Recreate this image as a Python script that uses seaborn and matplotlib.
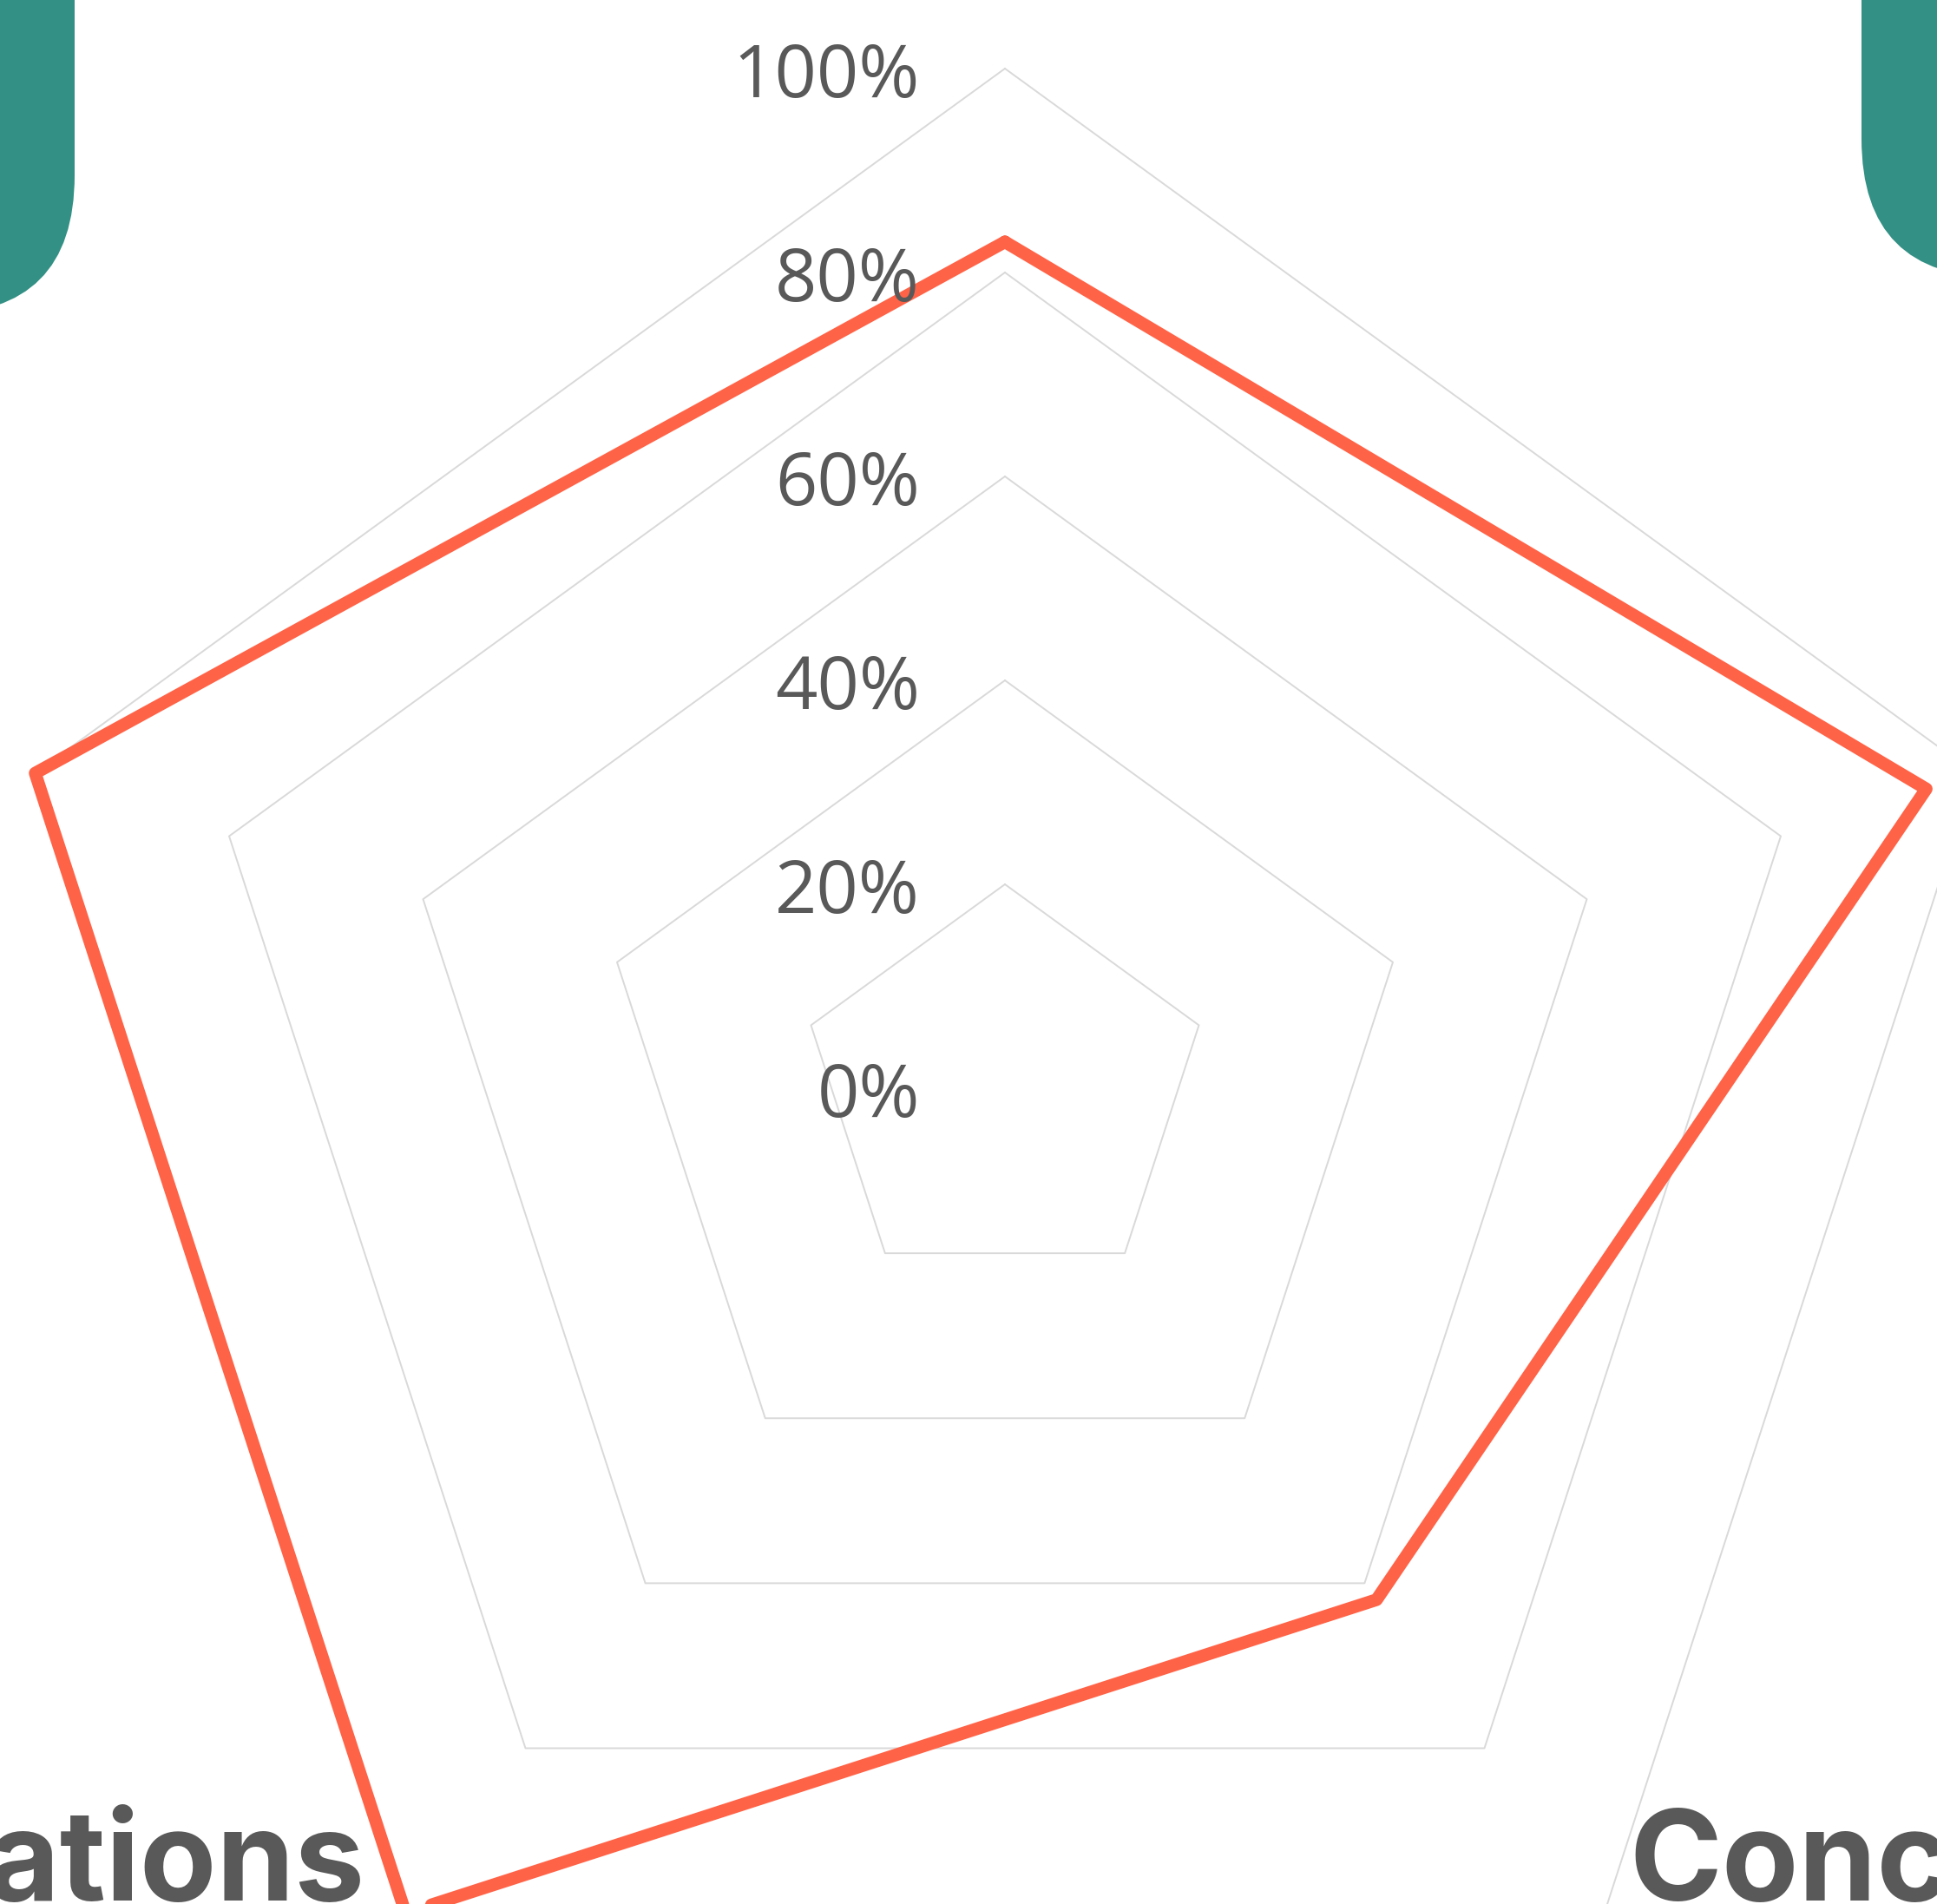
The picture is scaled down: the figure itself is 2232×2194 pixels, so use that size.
import numpy as np
import pandas as pd
import matplotlib.pyplot as plt
import seaborn as sns
from matplotlib.patches import FancyBboxPatch
from matplotlib.transforms import IdentityTransform

categories = ['Knowledge', 'Skills', 'Concepts', 'Applications', 'Communication']
scores = [83, 95, 62, 100, 100]
ring_levels = [20, 40, 60, 80, 100]
tick_values = [0, 20, 40, 60, 80, 100]
tick_labels = ['0%', '20%', '40%', '60%', '80%', '100%']

sns.set_theme(style='white')
plt.rcParams['font.family'] = ['Open Sans', 'DejaVu Sans']

W, H = 2232, 2194
fig = plt.figure(figsize=(W / 100, H / 100), dpi=100)
fig.patch.set_facecolor('white')

# radar centre and outer radius in pixels (chart is cropped by the canvas)
cx, cy, R = 1158, 1254, 1175
ax = fig.add_axes([(cx - R) / W, 1 - (cy + R) / H, 2 * R / W, 2 * R / H], projection='polar')
ax.set_theta_zero_location('N')
ax.set_theta_direction(-1)
ax.set_facecolor('none')
ax.spines['polar'].set_visible(False)
ax.grid(False)

angles = np.linspace(0, 2 * np.pi, len(categories), endpoint=False)
closed = np.append(angles, 2 * np.pi)

# pentagon grid rings
for lv in ring_levels:
    ax.plot(closed, [lv] * len(closed), color='#d9d9d9', lw=1.4, clip_on=False, zorder=1)

df = pd.DataFrame({'theta': closed, 'score': scores + scores[:1]})
sns.lineplot(data=df, x='theta', y='score', sort=False, ax=ax, color='#ff6347',
             lw=10.5, clip_on=False, zorder=3, solid_joinstyle='round')

ax.set_ylim(0, 100)
ax.set_xticks([])
ax.set_yticks([])
ax.set_xlabel('')
ax.set_ylabel('')

# radial tick labels
for v, lab in zip(tick_values, tick_labels):
    ax.annotate(lab, xy=(0, v), xytext=(-98, -11), textcoords='offset pixels',
                ha='right', va='center', fontsize=61, color='#595959',
                annotation_clip=False)

# category labels
lab_pos = [((0, 200), 'center', 'bottom'), ((80, 0), 'left', 'center'),
           ((29, 15), 'left', 'baseline'), ((-47, 15), 'right', 'baseline'),
           ((-80, 0), 'right', 'center')]
for ang, name, (off, ha, va) in zip(angles, categories, lab_pos):
    ax.annotate(name, xy=(ang, 100), xytext=off, textcoords='offset pixels',
                ha=ha, va=va, fontsize=104, fontweight='bold', color='#595959',
                family=['Inter', 'DejaVu Sans'], annotation_clip=False)

# teal corner shapes
tl = FancyBboxPatch((-400, H - 362), 486, 800, boxstyle='round,pad=0,rounding_size=160',
                    transform=IdentityTransform(), fc='#339084', ec='none')
tr = FancyBboxPatch((2145, H - 320), 500, 800, boxstyle='round,pad=0,rounding_size=160',
                    transform=IdentityTransform(), fc='#339084', ec='none')
fig.add_artist(tl)
fig.add_artist(tr)

fig.savefig('out.png', dpi=100)
